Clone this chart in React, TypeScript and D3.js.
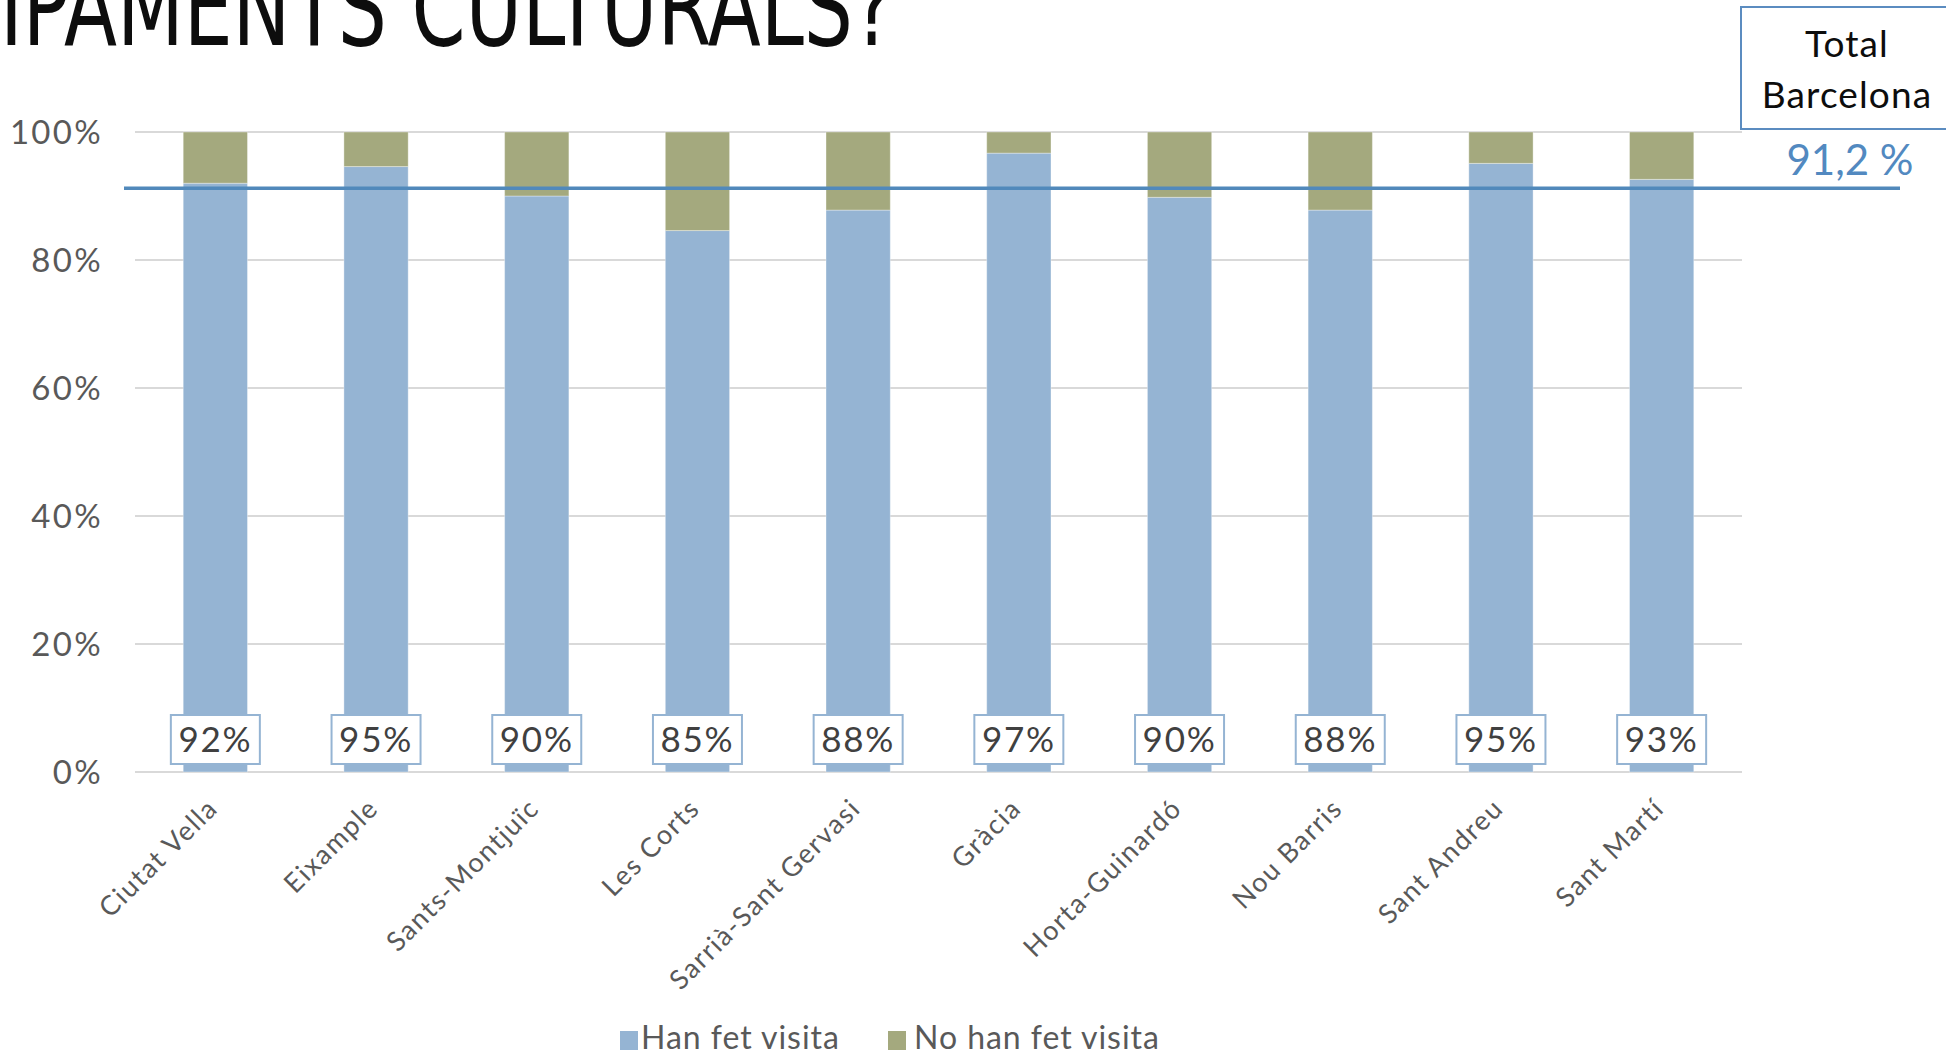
import { useMemo } from "react";
import * as d3 from "d3";

const districts = [
  "Ciutat Vella",
  "Eixample",
  "Sants-Montjuïc",
  "Les Corts",
  "Sarrià-Sant Gervasi",
  "Gràcia",
  "Horta-Guinardó",
  "Nou Barris",
  "Sant Andreu",
  "Sant Martí",
];
const visited = [92.0, 94.6, 90.0, 84.6, 87.8, 96.7, 89.8, 87.8, 95.1, 92.6];
const notVisited = visited.map((v) => 100 - v);
const yTicks = [0, 20, 40, 60, 80, 100];
const cityTotal = 91.2;

const seriesNames = ["Han fet visita", "No han fet visita"];
const seriesColors = ["#95b4d3", "#a4a97e"];

const W = 1946;
const H = 1055;
const FONT = "'Century Gothic', 'Lato', 'Open Sans', sans-serif";

export default function App() {
  const margin = { top: 132, left: 135, right: W - 1742, bottom: H - 772 };

  const x = useMemo(
    () =>
      d3
        .scaleBand<string>()
        .domain(districts)
        .range([margin.left, W - margin.right])
        .paddingInner(0.6)
        .paddingOuter(0.3),
    []
  );
  const y = useMemo(
    () => d3.scaleLinear().domain([0, 100]).range([H - margin.bottom, margin.top]),
    []
  );

  const stacked = useMemo(() => {
    const rows = districts.map((d, i) => ({
      name: d,
      visited: visited[i],
      notVisited: notVisited[i],
    }));
    return d3.stack<(typeof rows)[0]>().keys(["visited", "notVisited"])(rows);
  }, []);

  const fmt = (v: number) => `${Math.round(v)}%`;

  return (
    <svg
      width={W}
      height={H}
      style={{ position: "absolute", left: 0, top: 0, background: "#fff" }}
      fontFamily={FONT}
    >
      {/* title, cropped at the top of the slide */}
      <text
        x={0}
        y={45}
        fontSize={108}
        textLength={894}
        lengthAdjust="spacingAndGlyphs"
        fill="#0d0d0d"
        fontFamily="'DejaVu Sans Condensed', 'DejaVu Sans', sans-serif"
        fontStretch="condensed"
      >
        IPAMENTS CULTURALS?
      </text>

      {/* grid */}
      {yTicks.map((t) => (
        <g key={t}>
          <line
            x1={margin.left}
            x2={W - margin.right}
            y1={y(t)}
            y2={y(t)}
            stroke="#d9d9d9"
            strokeWidth={2}
          />
          <text
            x={103}
            y={y(t)}
            dy="0.36em"
            textAnchor="end"
            fontSize={33}
            letterSpacing="0.07em"
            fill="#595959"
          >
            {t}%
          </text>
        </g>
      ))}

      {/* bars */}
      {stacked.map((s, si) => (
        <g key={s.key} fill={seriesColors[si]}>
          {s.map((d) => (
            <rect
              key={d.data.name}
              x={x(d.data.name)}
              y={y(d[1])}
              width={x.bandwidth()}
              height={y(d[0]) - y(d[1])}
              stroke="#ffffff"
              strokeOpacity={0.35}
              strokeWidth={1}
            />
          ))}
        </g>
      ))}

      {/* data labels */}
      {districts.map((d, i) => {
        const cx = (x(d) || 0) + x.bandwidth() / 2;
        return (
          <g key={d}>
            <rect
              x={cx - 44.5}
              y={y(0) - 57}
              width={89}
              height={49}
              fill="#fff"
              stroke="#95b4d3"
              strokeWidth={2}
            />
            <text
              x={cx}
              y={y(0) - 32.5}
              dy="0.36em"
              textAnchor="middle"
              fontSize={35}
              letterSpacing="0.05em"
              fill="#404040"
            >
              {fmt(visited[i])}
            </text>
          </g>
        );
      })}

      {/* x labels */}
      {districts.map((d) => {
        const cx = (x(d) || 0) + x.bandwidth() / 2;
        return (
          <text
            key={d}
            transform={`translate(${cx + 4},${y(0) + 38}) rotate(-45)`}
            textAnchor="end"
            fontSize={27}
            letterSpacing="0.06em"
            fill="#595959"
          >
            {d}
          </text>
        );
      })}

      {/* city average */}
      <line
        x1={124}
        x2={1900}
        y1={y(cityTotal)}
        y2={y(cityTotal)}
        stroke="#5189bb"
        strokeWidth={3.5}
      />
      <rect
        x={1741}
        y={7}
        width={220}
        height={122}
        fill="#fff"
        stroke="#5b8cc0"
        strokeWidth={2}
      />
      <text x={1847} y={57} textAnchor="middle" fontSize={37} letterSpacing="0.03em" fill="#0d0d0d">
        Total
      </text>
      <text x={1847} y={108} textAnchor="middle" fontSize={37} letterSpacing="0.03em" fill="#0d0d0d">
        Barcelona
      </text>
      <text x={1850} y={175} textAnchor="middle" fontSize={42} fill="#5289c0">
        {String(cityTotal).replace(".", ",")} %
      </text>

      {/* legend */}
      {seriesNames.map((n, i) => {
        const lx = [620, 888][i];
        const tx = [641, 914][i];
        return (
          <g key={n}>
            <rect x={lx} y={1031} width={18} height={19} fill={seriesColors[i]} />
            <text x={tx} y={1049} fontSize={32} letterSpacing="0.03em" fill="#595959">
              {n}
            </text>
          </g>
        );
      })}
    </svg>
  );
}
